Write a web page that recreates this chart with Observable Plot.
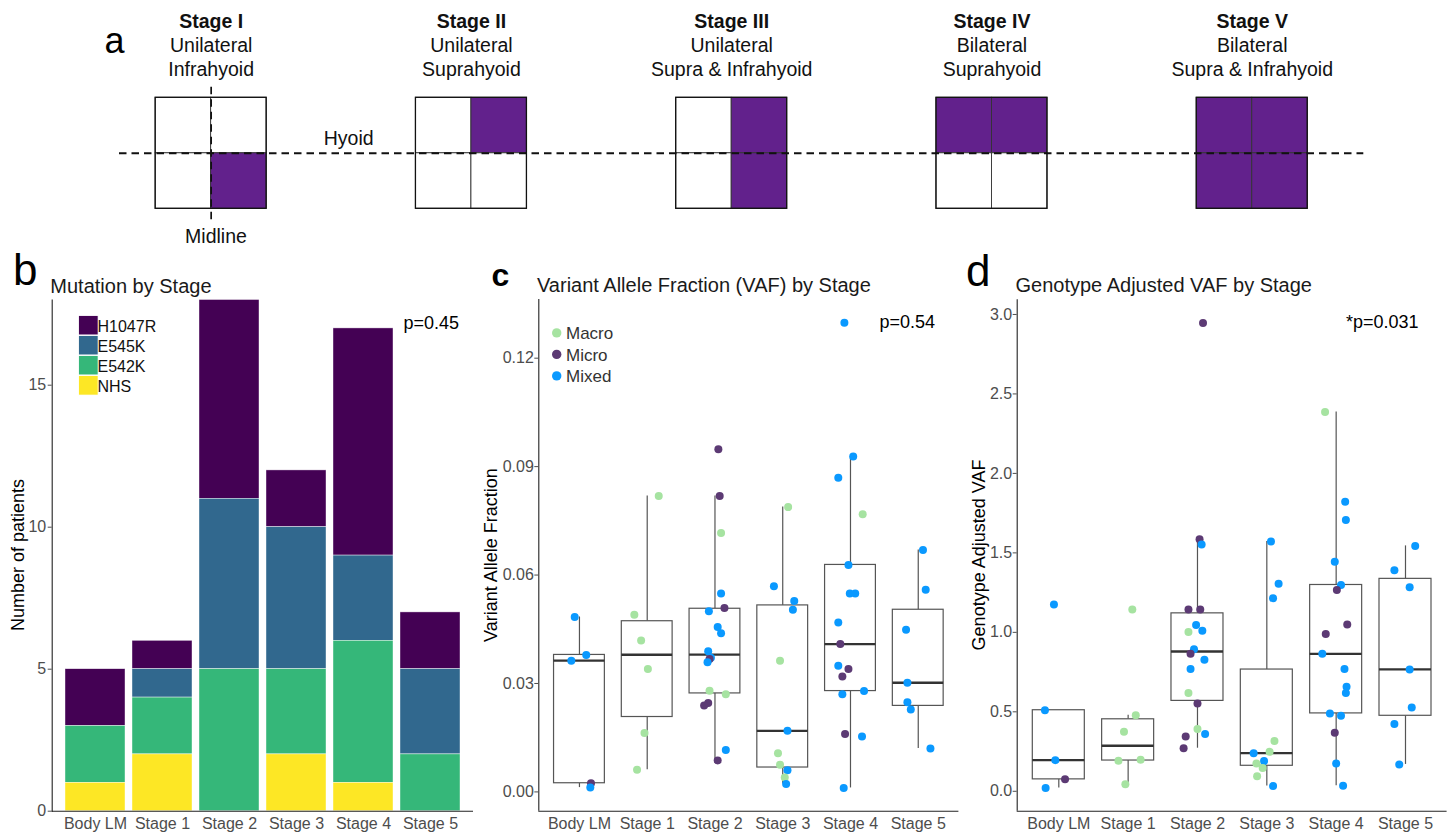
<!DOCTYPE html>
<html><head><meta charset="utf-8">
<script src="https://cdn.jsdelivr.net/npm/d3@7"></script>
<script src="https://cdn.jsdelivr.net/npm/@observablehq/plot@0.6"></script>
<style>
html,body{margin:0;padding:0;background:#fff;}
#root{position:relative;width:1452px;height:834px;overflow:hidden;font-family:"Liberation Sans",Arial,Helvetica,sans-serif;}
#root > svg{position:absolute;}
</style></head>
<body><div id="root"></div>
<script>
// ---------- DATA ----------
// Panel a: staging diagram
const aStages = ["Stage I","Stage II","Stage III","Stage IV","Stage V"];
const aSide   = ["Unilateral","Unilateral","Unilateral","Bilateral","Bilateral"];
const aLevel  = ["Infrahyoid","Suprahyoid","Supra & Infrahyoid","Suprahyoid","Supra & Infrahyoid"];

// Shared categories
const stages = ["Body LM","Stage 1","Stage 2","Stage 3","Stage 4","Stage 5"];

// Panel b: mutation counts by stage
const mutations = ["H1047R","E545K","E542K","NHS"];
const mutationColors = ["#440154","#31688E","#35B779","#FDE725"];
const countH1047R = [2,1,7,2,8,2];
const countE545K  = [0,1,6,5,3,3];
const countE542K  = [2,2,5,3,5,2];
const countNHS    = [1,2,0,2,1,0];
const bTicks = [0,5,10,15];

// Point types (panels c, d)
const typeNames  = ["Macro","Micro","Mixed"];
const typeColors = ["#A6E3A1","#5C3A74","#0A99FF"];

// points per stage (same patients in c and d)
const pointCounts = [5,6,18,11,17,7];

// Panel c: VAF
const vafValue = [
  0.0484,0.0379,0.0363,0.0024,0.0012,
  0.0819,0.0490,0.0419,0.0340,0.0163,0.0061,
  0.0948,0.0819,0.0716,0.0549,0.0509,0.0500,0.0456,0.0439,0.0389,0.0371,0.0368,0.0359,0.0280,0.0270,0.0246,0.0239,0.0116,0.0087,
  0.0788,0.0569,0.0528,0.0504,0.0363,0.0169,0.0107,0.0075,0.0060,0.0040,0.0022,
  0.1298,0.0928,0.0869,0.0768,0.0628,0.0549,0.0549,0.0469,0.0409,0.0349,0.0340,0.0319,0.0279,0.0270,0.0160,0.0153,0.0011,
  0.0669,0.0559,0.0449,0.0302,0.0248,0.0228,0.0120
];
const vafType = [
  "Mixed","Mixed","Mixed","Micro","Mixed",
  "Macro","Macro","Macro","Macro","Macro","Macro",
  "Micro","Micro","Macro","Mixed","Micro","Mixed","Mixed","Mixed","Mixed","Mixed","Micro","Mixed","Macro","Macro","Micro","Micro","Mixed","Micro",
  "Macro","Mixed","Mixed","Mixed","Macro","Mixed","Macro","Macro","Mixed","Macro","Mixed",
  "Mixed","Mixed","Mixed","Macro","Mixed","Mixed","Mixed","Mixed","Micro","Mixed","Micro","Micro","Mixed","Mixed","Micro","Mixed","Mixed",
  "Mixed","Mixed","Mixed","Mixed","Mixed","Mixed","Mixed"
];
const vafJitter = [
  -0.07,0.10,-0.12,0.17,0.16,
  0.17,-0.19,-0.09,0.01,-0.04,-0.15,
  0.05,0.07,0.09,0.09,0.14,-0.09,0.04,0.09,-0.10,-0.06,-0.08,-0.11,-0.08,0.16,-0.10,-0.16,0.16,0.04,
  0.08,-0.13,0.17,0.15,-0.04,0.07,-0.07,-0.04,0.07,0.03,0.05,
  -0.09,0.04,-0.18,0.18,-0.03,-0.01,0.07,-0.18,-0.15,-0.18,-0.03,-0.12,0.20,-0.12,-0.08,0.17,-0.10,
  0.07,0.11,-0.18,-0.16,-0.16,-0.11,0.18
];
const vafTicks = [0,0.03,0.06,0.09,0.12];

// Panel d: genotype adjusted VAF
const gvafValue = [
  1.175,0.510,0.196,0.075,0.021,
  1.144,0.479,0.375,0.192,0.198,0.044,
  2.946,1.586,1.552,1.144,1.144,1.046,1.010,1.002,0.894,0.865,0.827,0.769,0.619,0.552,0.392,0.360,0.344,0.271,
  1.571,1.306,1.215,0.317,0.248,0.240,0.190,0.175,0.146,0.094,0.033,
  2.387,1.822,1.707,1.444,1.298,1.267,1.050,0.990,0.865,0.769,0.658,0.619,0.490,0.475,0.369,0.175,0.035,
  1.544,1.390,1.283,0.767,0.527,0.423,0.169
];
const gvafType = [
  "Mixed","Mixed","Mixed","Micro","Mixed",
  "Macro","Macro","Macro","Macro","Macro","Macro",
  "Micro","Micro","Mixed","Micro","Micro","Mixed","Mixed","Macro","Mixed","Micro","Mixed","Mixed","Macro","Micro","Macro","Mixed","Micro","Micro",
  "Mixed","Mixed","Mixed","Macro","Macro","Mixed","Mixed","Macro","Macro","Macro","Mixed",
  "Macro","Mixed","Mixed","Mixed","Mixed","Micro","Micro","Micro","Mixed","Mixed","Mixed","Mixed","Mixed","Mixed","Micro","Mixed","Mixed",
  "Mixed","Mixed","Mixed","Mixed","Mixed","Mixed","Mixed"
];
const gvafJitter = [
  -0.07,-0.20,-0.05,0.09,-0.19,
  0.06,0.11,-0.06,-0.14,0.18,-0.04,
  0.08,0.03,0.06,-0.13,0.04,-0.02,0.07,-0.13,-0.05,-0.10,0.10,-0.10,-0.13,0.00,0.00,0.11,-0.17,-0.20,
  0.06,0.17,0.09,0.11,0.04,-0.19,-0.04,-0.15,-0.06,-0.14,0.09,
  -0.16,0.13,0.14,-0.02,0.07,0.01,0.16,-0.15,-0.20,0.12,0.15,0.14,-0.09,0.07,-0.02,0.00,0.10,
  0.14,-0.16,0.06,0.06,0.09,-0.16,-0.09
];
const gvafTicks = [0,0.5,1.0,1.5,2.0,2.5,3.0];

// Annotations
const pValues = ["p=0.45","p=0.54","*p=0.031"];
const titles = ["Mutation by Stage","Variant Allele Fraction (VAF) by Stage","Genotype Adjusted VAF by Stage"];
const yTitles = ["Number of patients","Variant Allele Fraction","Genotype Adjusted VAF"];

// ---------- STYLE ----------
const FONT = "Liberation Sans, Arial, Helvetica, sans-serif";
const PURPLE = "#62218C";
const AXIS = "#222";
const TICKTXT = "#4d4d4d";
const root = document.getElementById("root");
function place(svg, left, top) { svg.style.left = left + "px"; svg.style.top = top + "px"; root.appendChild(svg); }

// ---------- PANEL A ----------
const quads = [];
aStages.forEach((s, i) => {
  for (const side of ["L","R"]) for (const lev of ["Supra","Infra"]) {
    const sideOn = side === "R" || aSide[i] === "Bilateral";
    const levOn = aLevel[i].includes(lev);
    quads.push({i, side, lev, on: sideOn && levOn});
  }
});
const aStep = 260.27, aX0 = 210.66, hw = 55.5 / aStep;
const boxTop = 97.3, boxBot = 208.3, halfH = (boxBot - boxTop) / 2;
const pyToY = py => (boxTop + halfH - py) / halfH;
const plotA = Plot.plot({
  width: 1452, height: 250,
  marginLeft: 119, marginRight: 1452 - 1363.3, marginTop: 0, marginBottom: 0,
  x: {domain: [0, aStages.length - 1], range: [aX0, aX0 + aStep * (aStages.length - 1)], axis: null},
  y: {domain: [-1, 1], range: [boxBot, boxTop], axis: null},
  style: {fontFamily: FONT, background: "transparent", overflow: "visible"},
  marks: [
    Plot.rect(quads, {
      x1: d => d.side === "L" ? d.i - hw : d.i, x2: d => d.side === "L" ? d.i : d.i + hw,
      y1: d => d.lev === "Supra" ? 0 : -1, y2: d => d.lev === "Supra" ? 1 : 0,
      fill: d => d.on ? PURPLE : "white", stroke: "#333", strokeWidth: 0.9
    }),
    Plot.rect(aStages, {x1: (d, i) => i - hw, x2: (d, i) => i + hw, y1: -1, y2: 1, fill: "none", stroke: "#111", strokeWidth: 1.3}),
    Plot.ruleY([0], {stroke: "#111", strokeWidth: 2, strokeDasharray: "7.5,5"}),
    Plot.ruleX([0], {y1: pyToY(86.7), y2: pyToY(221.7), stroke: "#111", strokeWidth: 1.7, strokeDasharray: "7.5,5"}),
    Plot.text(aStages, {x: (d, i) => i, frameAnchor: "top", dy: 27.6, lineAnchor: "bottom", fontWeight: "bold", fontSize: 19.5, fill: "#111"}),
    Plot.text(aStages, {x: (d, i) => i, text: (d, i) => aSide[i] + "\n" + aLevel[i], frameAnchor: "top", dy: 75.3, lineAnchor: "bottom", lineHeight: 23.7 / 19.5, fontSize: 19.5, fill: "#111"})
  ]
});
place(plotA, 0, 0);

// ---------- PANEL B ----------
const bRows = [];
const countsBy = {H1047R: countH1047R, E545K: countE545K, E542K: countE542K, NHS: countNHS};
stages.forEach((s, k) => { for (const m of mutations) bRows.push({stage: s, mutation: m, count: countsBy[m][k]}); });
const bMax = d3.max(stages, (s, k) => mutations.reduce((a, m) => a + countsBy[m][k], 0));
const plotB = Plot.plot({
  width: 480, height: 544, marginLeft: 51.7, marginRight: 7, marginTop: 9.5, marginBottom: 23.3,
  x: {type: "band", domain: stages, paddingInner: 0.1, paddingOuter: 0.15},
  y: {domain: [0, bMax]},
  color: {domain: mutations, range: mutationColors},
  style: {fontFamily: FONT, background: "transparent", overflow: "visible"},
  marks: [
    Plot.barY(bRows, {x: "stage", y: "count", fill: "mutation", order: mutations.slice().reverse(), stroke: "white", strokeWidth: 0.6, strokeOpacity: 0.7}),
    Plot.ruleY([0], {stroke: AXIS, strokeWidth: 1.1}),
    Plot.frame({anchor: "left", stroke: AXIS, strokeWidth: 1.1}),
    Plot.axisY({ticks: bTicks, tickSize: 4, tickPadding: 2, fontSize: 16, color: TICKTXT, label: null}),
    Plot.axisX({tickSize: 0, tickPadding: 6.4, fontSize: 16, color: TICKTXT, label: null})
  ]
});
place(plotB, 0, 290);

// ---------- PANELS C & D ----------
const groupIdx = pointCounts.flatMap((n, k) => Array(n).fill(k + 1));
function boxStats(values) {
  return stages.map((s, k) => {
    const v = values.filter((_, j) => groupIdx[j] === k + 1).sort(d3.ascending);
    const q1 = d3.quantile(v, 0.25), med = d3.quantile(v, 0.5), q3 = d3.quantile(v, 0.75), iqr = q3 - q1;
    const lo = d3.min(v.filter(x => x >= q1 - 1.5 * iqr)), hi = d3.max(v.filter(x => x <= q3 + 1.5 * iqr));
    return {pos: k + 1, q1, med, q3, lo, hi};
  });
}
function boxPanel(values, types, jitter, ticks, fmt, geom) {
  const pts = values.map((v, j) => ({v, type: types[j], pos: groupIdx[j], jit: jitter[j]}));
  const stats = boxStats(values);
  const [mn, mx] = d3.extent(values), pad = (mx - mn) * 0.05;
  const yDom = [mn - pad, mx + pad];
  const bw = 0.375;
  return Plot.plot({
    width: geom.width, height: 544, marginLeft: geom.ml, marginRight: geom.mr, marginTop: geom.mt, marginBottom: 23.3,
    x: {domain: [0.4, stages.length + 0.6]},
    y: {domain: yDom},
    color: {domain: typeNames, range: typeColors},
    style: {fontFamily: FONT, background: "transparent", overflow: "visible"},
    marks: [
      Plot.ruleX(stats, {x: "pos", y1: "q3", y2: "hi", stroke: "#555", strokeWidth: 1.2}),
      Plot.ruleX(stats, {x: "pos", y1: "lo", y2: "q1", stroke: "#555", strokeWidth: 1.2}),
      Plot.rect(stats, {x1: d => d.pos - bw, x2: d => d.pos + bw, y1: "q1", y2: "q3", fill: "white", stroke: "#555", strokeWidth: 1.2}),
      Plot.ruleY(stats, {y: "med", x1: d => d.pos - bw, x2: d => d.pos + bw, stroke: "#333", strokeWidth: 2.3}),
      Plot.dot(pts, {x: d => d.pos + d.jit, y: "v", fill: "type", r: 4}),
      Plot.ruleX([0.4], {stroke: AXIS, strokeWidth: 1.1}),
      Plot.ruleY([yDom[0]], {stroke: AXIS, strokeWidth: 1.1}),
      Plot.axisY({ticks, tickFormat: d3.format(fmt), tickSize: 4, tickPadding: 1, fontSize: 16, color: TICKTXT, label: null}),
      Plot.axisX({ticks: stages.map((s, k) => k + 1), tickFormat: i => stages[i - 1], tickSize: 0, tickPadding: 6.4, fontSize: 16, color: TICKTXT, label: null})
    ]
  });
}
place(boxPanel(vafValue, vafType, vafJitter, vafTicks, ".2f", {width: 480, ml: 58.3, mr: 1.6, mt: 9}), 480, 290);
place(boxPanel(gvafValue, gvafType, gvafJitter, gvafTicks, ".1f", {width: 492, ml: 56.7, mr: 5.4, mt: 9.3}), 960, 290);

// ---------- OVERLAY TEXT & LEGENDS ----------
const ov = d3.select(root).append("svg").attr("width", 1452).attr("height", 834)
  .style("left", "0px").style("top", "0px").style("pointer-events", "none")
  .attr("font-family", FONT);
function txt(x, y, s, size, opt = {}) {
  const t = ov.append("text").attr("x", x).attr("y", y).attr("font-size", size)
    .attr("fill", opt.fill || "#000").attr("text-anchor", opt.anchor || "start").text(s);
  if (opt.bold) t.attr("font-weight", "bold");
  if (opt.rotate) t.attr("x", null).attr("y", null).attr("transform", `translate(${x},${y}) rotate(-90)`);
  return t;
}
// panel a annotations
txt(104.5, 52.5, "a", 36);
txt(348.7, 145, "Hyoid", 19.5, {anchor: "middle", fill: "#111"});
txt(216, 242.5, "Midline", 19.5, {anchor: "middle", fill: "#111"});
// panel b
txt(13, 285, "b", 44);
txt(50.3, 293, titles[0], 20, {fill: "#1a1a1a"});
txt(403.5, 328.5, pValues[0], 18);
txt(24, 555, yTitles[0], 18, {anchor: "middle", rotate: true});
mutations.forEach((m, k) => {
  ov.append("rect").attr("x", 78.3).attr("y", 315.3 + k * 20).attr("width", 20).attr("height", 20)
    .attr("fill", mutationColors[k]).attr("stroke", "white").attr("stroke-width", 1.2);
  txt(97.5, 332 + k * 20, m, 16, {fill: "#111"});
});
// panel c
txt(491.5, 286, "c", 32, {bold: true});
txt(537, 291.7, titles[1], 20, {fill: "#1a1a1a"});
txt(879.5, 328.3, pValues[1], 18);
txt(496.5, 555, yTitles[1], 18, {anchor: "middle", rotate: true});
typeNames.forEach((t, k) => {
  ov.append("circle").attr("cx", 556.7).attr("cy", 332.9 + k * 21.5).attr("r", 4.7).attr("fill", typeColors[k]);
  txt(566, 339.3 + k * 21.5, t, 17, {fill: "#333"});
});
// panel d
txt(966, 286, "d", 44);
txt(1015.5, 291.7, titles[2], 20, {fill: "#1a1a1a"});
txt(1346, 328.3, pValues[2], 18);
txt(984.5, 555, yTitles[2], 18, {anchor: "middle", rotate: true});
</script>
</body></html>
